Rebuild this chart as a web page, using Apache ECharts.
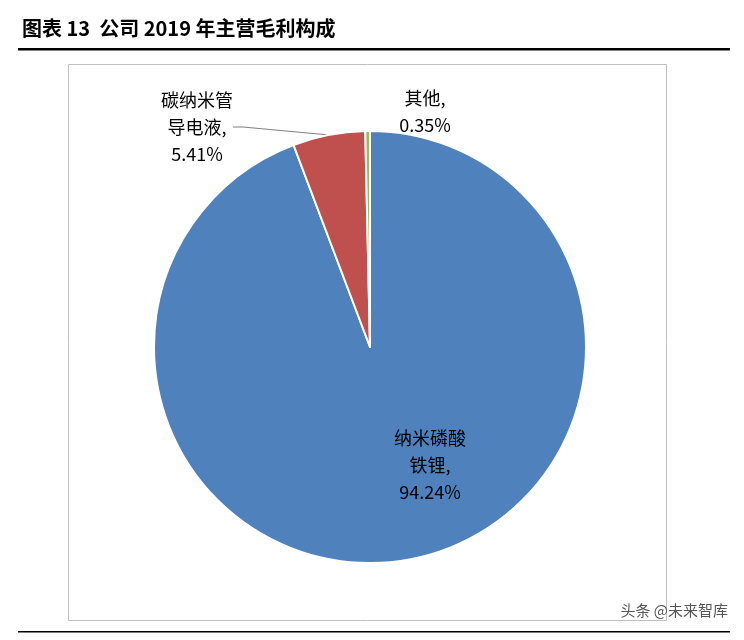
<!DOCTYPE html>
<html><head><meta charset="utf-8">
<script src="https://cdn.jsdelivr.net/npm/echarts@6/dist/echarts.min.js"></script>
<style>html,body{margin:0;padding:0;background:#fff}#c{width:744px;height:640px}</style>
</head><body><div id="c"></div>
<script>
const categories = ['纳米磷酸\n铁锂', '碳纳米管\n导电液', '其他'];
const values = [94.24, 5.41, 0.35];
const colors = ['#4F81BD', '#C0504D', '#9BBB59'];
const labelPos = [{x: 430, y: 465}, {x: 197, y: 127}, {x: 425, y: 112}];

const chart = echarts.init(document.getElementById('c'));
const F = '"Noto Sans CJK SC", sans-serif';
chart.setOption({
  animation: false,
  graphic: [
    {type: 'text', left: 22, top: 18, style: {text: '图表 13  公司 2019 年主营毛利构成', font: 'bold 20px ' + F, fill: '#000'}},
    {type: 'rect', shape: {x: 18, y: 48, width: 712, height: 2.5}, style: {fill: '#000'}},
    {type: 'rect', shape: {x: 68.5, y: 64.5, width: 598, height: 556}, style: {fill: 'none', stroke: '#bfbfbf', lineWidth: 1}},
    {type: 'rect', shape: {x: 18, y: 631, width: 712, height: 1.5}, style: {fill: '#000'}},
    {type: 'text', right: 16, top: 603, style: {text: '头条 @未来智库', font: '15px ' + F, fill: '#555'}}
  ],
  series: [{
    type: 'pie',
    center: [370, 347],
    radius: [0, 216],
    startAngle: 90,
    clockwise: true,
    itemStyle: {borderColor: '#fff', borderWidth: 2},
    label: {
      show: true,
      formatter: p => p.name + ',\n' + p.value.toFixed(2) + '%',
      fontSize: 18, fontFamily: '"Noto Sans CJK SC", sans-serif', color: '#000', lineHeight: 27, align: 'center'
    },
    labelLine: {show: true, lineStyle: {color: '#7f7f7f', width: 1}, length: 10, length2: 10},
    labelLayout: p => {
      const pos = labelPos[p.dataIndex];
      return {x: pos.x, y: pos.y, align: 'center', verticalAlign: 'middle'};
    },
    data: values.map((v, i) => ({
      name: categories[i], value: v,
      itemStyle: {color: colors[i]},
      labelLine: {show: i === 1}
    }))
  }]
});
</script></body></html>
